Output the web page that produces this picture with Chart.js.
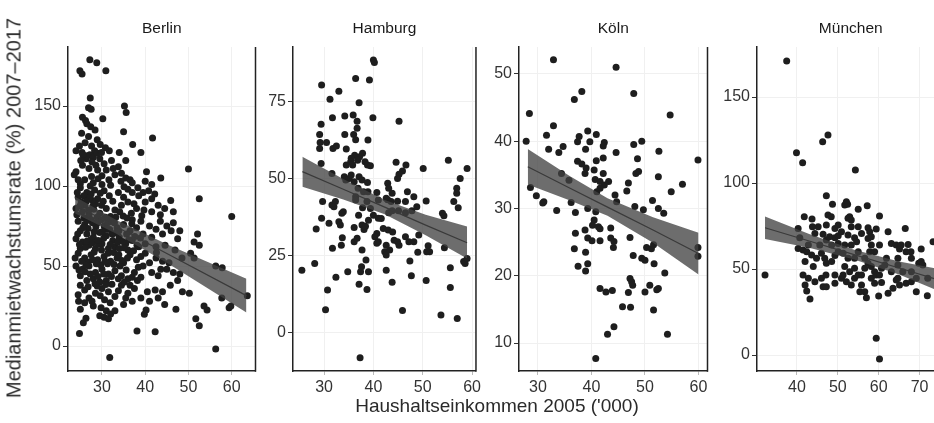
<!DOCTYPE html>
<html><head><meta charset="utf-8">
<script src="https://cdn.jsdelivr.net/npm/chart.js@4"></script>
<style>
html,body{margin:0;padding:0;background:#fff;width:934px;height:423px;overflow:hidden;position:relative;font-family:"Liberation Sans",Arial,sans-serif;}
canvas{position:absolute;}
#ytitle{position:absolute;left:14px;top:208px;transform:translate(-50%,-50%) rotate(-90deg);white-space:nowrap;font-size:20px;color:#2a2a2a;}
#xtitle{position:absolute;left:497px;top:406px;transform:translate(-50%,-50%);white-space:nowrap;font-size:19px;color:#2a2a2a;}
</style></head>
<body>
<canvas id="c0"></canvas><canvas id="c1"></canvas><canvas id="c2"></canvas><canvas id="c3"></canvas>
<div id="ytitle">Medianmietwachstumsrate (%) 2007–2017</div>
<div id="xtitle">Haushaltseinkommen 2005 ('000)</div>
<script>
// ---------------- DATA ----------------
const cities = ["Berlin", "Hamburg", "Köln", "München"];

const berlinXTicks = [30, 40, 50, 60];
const berlinYTicks = [0, 50, 100, 150];
const hamburgXTicks = [30, 40, 50, 60];
const hamburgYTicks = [0, 25, 50, 75];
const koelnXTicks = [30, 40, 50, 60];
const koelnYTicks = [10, 20, 30, 40, 50];
const muenchenXTicks = [40, 50, 60, 70];
const muenchenYTicks = [0, 50, 100, 150];

const berlinRange = {x: [22.15, 65.5], y: [-15.6, 186.9]};
const hamburgRange = {x: [23.7, 60.8], y: [-12.3, 92.5]};
const koelnRange = {x: [26.46, 61.68], y: [5.84, 54.0]};
const muenchenRange = {x: [30.24, 76.1], y: [-9.3, 179.1]};

// income ('000), rent growth (%)
const berlinPoints = [
[27.2,179],[28.8,177],[24.9,172],[25.4,170],[30.9,172],[27.3,155],[35.2,150],[35.6,146],[26.9,149],[27.5,148],
[25.5,143],[26.2,141],[30.2,142],[26.5,139],[27.4,137],[28.4,135],[25.3,133],[26.9,131],[28.9,129],[26.1,127],[27.6,125],[24.8,125],[28.3,122],[29.6,126],[25.4,121],[35,134],[41.7,130],[37.1,126],[24,122],[31.7,122],[34,121],[39,121],[27.2,119.5],[26.4,117],
[26.5,119],[28,118],[29.5,117],[30.5,114],[32.2,116],[35.5,116],[25.5,113],[27,111],[24,109],[23.6,107],[29,110],[31,110],[33,107],[34.5,108],[35.5,105],[36.5,104],[37,102],[40.3,109],[50,110.6],[43.6,105],[40,103],[41.5,101],[26,104],[28,102],[30,101],[32,100.5],[28.6,113],[33.8,112],[30,106.5],[27.6,106],[25,101.5],
[25,99],[26.5,96],[24.5,93],[27.5,95],[29,92],[30.5,97],[28.5,89],[26,88],[31,86],[33,85],[35,93],[37,96],[38.5,94],[40,90],[41.5,92],[40.8,97],[52.5,92],[45.9,91],[44.5,86],[46.5,84],[43.5,82],[41.5,84],[60,81],[24,86],[25.5,84],[27,82],[29.5,83],[32,81],[34.5,88],[36,90],[38,86],[27.8,91],[32.5,90.5],[33.8,96],[29.9,88],[31.7,94],[36.8,83],[39.2,81.5],[25.2,90],[28.1,85.5],[30.8,80.5],[34.9,81.3],
[24.5,78],[26,76],[27.5,79],[29,77],[30.5,75],[32,78],[33.5,74],[35,76],[36.5,72],[38,74],[39.5,70],[25,72],[26.5,70],[28,68],[29.5,71],[31,69],[32.5,66],[34,68],[35.5,64],[37,66],[38.5,62],[40,64],[43.5,78],[45,75],[46.5,77],[48,72],[44,70],[47.5,67],[52.1,70],[51.3,65],[52.5,63],[41.5,68],[42.5,62],[25.5,65],[27,63],[28.5,61],[30,64],[31.5,61],[33,62],[24,67],[25,61],[37,79],[39,78],[41,75],[42.5,73],[36,60],[34,61],[26.8,73.5],[28.6,74.5],[31.8,72.8],[33.2,70.6],[27.4,66.5],[30.4,67.4],[29.2,63.7],[32.9,77],[35.7,70],[38.9,67.6],[26.2,61.8],[34.8,65.3],
[24.5,58],[26,55],[27.5,57],[29,54],[30.5,56],[32,53],[33.5,55],[35,52],[36.5,57],[38,54],[39.5,50],[41,52],[42.5,55],[44,53],[45,48],[46.5,46],[48,45],[24,50],[25.5,48],[27,50],[28.5,46],[30,48],[31.5,45],[33,47],[34.5,44],[36,42],[37.5,46],[25,44],[26.5,41],[28,42],[29.5,40],[31,41],[50.5,58],[51.3,55],[56.3,50],[57.8,49],[40,58],[41.5,46],[43,44],[23.8,55],[39,43],[26.8,52.5],[29.7,50.8],[32.7,58.5],[34.2,50],[28.2,58.7],[31.3,51.5],[35.6,47.5],[38.4,49.2],
[25,38],[26,35],[24.5,32],[27,30],[28.5,33],[30,36],[31.5,34],[33,31],[34.5,38],[36,33],[37.5,36],[39,30],[40.5,34],[42.3,35],[43,30],[44,34],[48.6,34],[50.2,33],[63.6,31.5],[57.7,30],[59.4,24],[59.8,25],[53.6,25],[54.3,22.5],[47.1,23],[40.2,22.5],[26,27],[28,25],[25,23],[29.8,24],[31,22],[32,20],[33,22],[35,26],[37,28],[41,28],[44.5,26],[36.5,38],[28.9,37.5],[32.3,38.6],
[51.7,17],[52.5,12.7],[39.8,19.8],[38.1,9.4],[42.3,9.0],[56.3,-1.9],[31.8,-7.1],[24.8,7.9],[25.7,14.6],[26.3,17.3],[30.5,18],[31.5,17],[29.5,19],
[24.3,96],[25.8,94],[27.1,92.5],[28.3,97.5],[29.6,95.5],[26.4,90.5],[24.9,87.5],[27.9,87.5],[30.3,90.5],[26.9,85],[28.9,80.5],[25.8,80],[24.2,82],[27.8,77],[26.6,78.5],[29.9,79],[31.3,77],[33.2,80.5],[34.1,84],[35.8,80],[36.9,76.5],[31.1,73],[32.4,70],[33.9,72],[30.1,71.5],[28.2,71.5],[25.6,74],[24.4,70],[24.8,63.5],[26.5,65.5],[27.8,64.5],[29.9,60],[31.9,63.5],[33.6,65],[35.1,61.5],[36.2,66.5],[37.6,68.5],[38.1,63],[29.1,66],[31.4,58],[33.9,57],[35.9,55],[37.3,59.5],[39,56],[34.6,53.5],[32.8,51],[30.7,53],[28.7,51.5],[26.3,50.5],[25.3,53],[27.8,54],[30.4,45],[32.2,43.5],[33.8,42],[35.2,40],[37,43],[38.2,41],[27.3,45],[29.1,43.5],[26.1,46.5],[24.7,47.5],[28.4,39],[30.9,38.5],[26.8,37],[29.6,31.5],[27.7,28],[30.6,29],[33.8,34.5],[35.5,30],[31.9,27],[24.6,28],[25.6,119.5],[28.9,120.5],[27.7,115],[29.9,121],[25.1,116],[30.8,124],[32.6,111],[34.4,103],[31.6,104],[29.1,104.5],[27.3,100],[24.5,104],[36,98],[38.3,99],[35.1,99.5],[39.5,96],[42.2,95],[43,88],[39.7,85],[37.4,89],[46,72],[44.6,63],[46.9,60],[42.6,58.5],[48.5,55],[45.5,52],[43.6,48],[47.5,41],[45.8,38]
];

const hamburgPoints = [
[40,88.3],[40.2,87.5],[29.5,80.2],[36.4,82.3],[39.2,81.8],[33,78.2],[31.2,75.6],[37.1,74.5],[31.7,69.6],[34.2,70.2],[35.9,70.5],[39.9,69.6],[29.4,67.5],[36.7,68.5],[36.7,66.2],[45.2,68.5],
[29.1,64.2],[34.2,64.2],[36,64.2],[36.4,62.5],[38.9,62.4],[29.2,61.6],[29.1,59.7],[30.5,61.6],[31.8,59.7],[32.5,60.5],[34.5,59.5],
[37.8,58.1],[37.2,57],[36.2,57.5],[35.5,56.5],[35.4,55.4],[34.5,54.3],[35.8,54.3],[36.8,55.9],[38.3,55.4],[38.8,54.3],[39.4,54.1],[29.4,54.8],[44.6,55.2],[46.6,54.3],[45.9,52.4],[45.2,51.3],[44.9,50],[50.1,53.2],[55.2,55.9],[59,53.2],[57.6,50],
[31.6,51.6],[34.1,50.5],[34.4,49.5],[35.1,50],[35.5,51.1],[36.1,48.9],[37.1,50.5],[37.7,49.5],[38.8,48.7],[36.9,46.8],[38,45.7],[38.9,45.7],[40.7,45.4],[42.9,48.4],[43.1,46.8],[43.8,45.2],[46.9,45.7],[48.2,44.1],[56.9,46.8],[56.9,45.2],[56.3,42.5],[57.2,40.5],
[29.7,42.5],[31.6,41.4],[32.3,42.5],[32,40.8],[36.4,44.1],[36.4,43],[37.8,40.5],[39.4,40.3],[38.7,42.5],[41,43],[42.6,43.6],[42.9,43.1],[43.6,42.5],[44.9,42.6],[46.5,42.5],
[41,37.1],[41.6,37],[43.1,38.9],[43.8,39.5],[45.1,39.5],[46.5,38.9],[47.8,39.5],[48.8,40.8],[50.7,42.7],[54,38.7],[54.3,37.9],[33.6,38.7],[33.9,39.2],[29.5,37.1],[28.4,33.6],[31,35.5],[33,36],[33.3,34.9],
[36.1,34.1],[37.7,34.9],[38.1,33.5],[38.4,34.5],[39,36.5],[37,38.1],[40,38.1],[36.1,29.5],[36.7,30.6],[33.5,28.4],[33.7,30.8],[31.7,27.4],[37.7,26.8],[40.7,32.2],[40.3,31.1],[41,29.5],[40.7,29],
[42,33.8],[43,33.3],[43.9,32.7],[44.2,30],[44.9,29.5],[45.2,28.4],[42.6,28.4],[42.3,26.3],[42.6,25.2],[43.3,26.8],[46.5,31.1],[47.2,29.5],[48.2,29.5],[49.2,31.7],[51.1,28.2],[51.4,26.3],[50.8,26.3],[49,26.1],[54.4,27.6],
[58.3,23.1],[58.6,22.5],[59,24.1],[55.6,21.1],[47.4,23.3],[25.5,20.3],[28.1,22.5],[34.8,19.8],[37.4,19.8],[37.6,21.4],[39,19.8],[38.5,23.6],[42.6,20.3],[43.8,16.4],[47.7,18.5],[50.7,17],[32.4,18],
[30.7,13.9],[37.1,15.8],[38.7,14.1],[55.6,14.7],[30.3,7.5],[45.9,7.3],[53.7,5.8],[57,4.7],[37.3,-8]
];

const koelnPoints = [
[32.9,52.1],[44.6,51],[38.2,47.4],[36.8,46.2],[47.9,47.1],[28.4,44.1],[54.7,43.9],[32.9,42.3],[31.6,40.9],[37.7,40.7],[37.4,39.9],[39.3,41.5],[40.9,41],[27.8,40],[39.7,39.9],[42.4,39.8],[42.2,39.3],[49.4,40],[47.9,39.5],
[32,38.8],[33.9,38.3],[34.7,39.2],[38.9,38.8],[44.6,38.3],[52.6,38.5],[40.9,37.1],[42.2,37.5],[48.6,37.4],[59.9,37.2],[37.4,37],[38.2,36.6],[39,36],[38.8,35.2],[40.5,35.7],[42.2,35.2],[48.3,35.2],[48.8,35.5],[52.5,34.7],[34.4,35.2],[35.8,34.2],
[40.7,34.3],[41.6,34],[42.4,33.5],[43.2,34],[41.6,33],[41,32.5],[46.9,33.8],[46.6,32.6],[57,33.6],[54.9,32.5],[44.4,32],[28.6,33.1],[29.7,31.9],[31.1,31],[30.9,30.8],[36.2,30.9],[37,29.4],[33.5,29.7],[39.3,30],[40.8,29.5],[44.7,31],[48.1,30.3],[49.7,29.8],[51.4,31.2],[52.5,30],[53.5,29.3],
[40.5,28.3],[40.2,27.5],[41.3,27.3],[41.6,27],[38.8,26.8],[43.6,27.1],[47.2,25.7],[37,26.3],[39.3,25.6],[40.1,25.2],[41.6,25.2],[43.6,25.6],[44.2,25.1],[44.1,24.2],[50.3,24.2],[51.2,24],[51.6,24.6],[59.9,24.2],[59.9,22.9],[36.8,24],[38.9,23.5],
[47.8,23],[49.4,22.6],[50,22.3],[51.7,21.8],[53.7,20.4],[37.5,21.4],[39.3,21.8],[38.9,20.7],[47.2,19.6],[47.5,19.1],[47.7,18.6],[50.9,18.6],[50,17.6],[52.5,18.1],[52.2,17.9],[41.6,18.1],[42.7,17.6],[43.9,17.8],[46.9,17.5],
[45.8,15.4],[47.3,15.3],[51.6,14.9],[44.2,12.4],[43,11.3],[54.2,11.3],[40.8,7.7]
];

const muenchenPoints = [
[37.5,171],[46.3,124],[47.6,127.9],[39.9,117.6],[41.4,111.8],[54.3,107.6],[47.2,92.6],[52.1,89.1],[51.7,87.2],[52.4,87.6],[48.7,87.6],[57.2,86.8],[55,84.7],
[47.6,81.4],[48.4,80.4],[52.9,80.4],[52.5,79.5],[53.3,78.5],[60.2,80.8],[41.8,80.4],[43.7,79.1],[45.2,74.6],[47.2,75.6],[49.3,73.6],[50.1,75.6],[40.3,73.6],[66.5,73.6],[57.4,74],[59.4,73.3],[57.8,71.7],[57.4,67.8],[62.3,71.7],
[44.4,70.7],[46.4,70.2],[47.2,66.9],[49.3,68.2],[50.1,69.4],[52.5,69.8],[54.1,68.2],[40.3,62],[41.5,61],[42.4,60.1],[63.1,64.9],[64.3,64],[65.1,61.6],[67.2,64.3],[67.9,60.1],[70.4,61.6],[73.3,65.9],
[43.6,58.1],[44.8,56.2],[46,59.1],[46.8,56.2],[47.2,53.3],[48.5,54.3],[49.3,57.8],[50.1,60.1],[51.3,59.1],[51.7,64],[52.5,56.2],[54.1,56.2],[55,60.1],[56.6,56.2],[58.2,64],[59,60.1],[57.4,53.3],[58.2,51.4],[56.6,50.4],[59,48.4],[60.7,50.4],[61.5,52.3],
[47.1,46.5],[49.3,46.5],[50.9,44.6],[51.7,51.4],[52.9,48.4],[54.1,44.6],[55,46.5],[53.3,40.7],[55.8,40.7],[56.6,36.8],[57,33.3],[58.2,44.6],[59,41.7],[60.7,42.2],[59.4,46.5],[60.2,46.5],[62.3,35.9],[63.5,38.8],[64.3,43.6],[65.1,40.7],[66.7,41.7],[68,42.6],[69.2,44.6],[69.8,53.3],[70.4,54.3],[72,44.6],
[44.4,42.6],[46.4,39.7],[47.2,39.7],[49.3,41.7],[65.9,48.4],[68,48.4],[64.7,52.3],[64.7,44.6],[40.7,68.2],[43.8,74.6],[53.3,74.6],[54.6,65.9],[55.8,70.7],[48.5,64],[50.1,64.9],[45.6,64],[66.7,60.1],[64.7,56.2],[68,56.2],
[42.8,64],[42,54.3],[44,51.4],[51.3,46.5],[55.8,46.5],[57.8,60.1],[61.9,56.2],[63.1,48.4],[65.5,64],[70.8,52.3],[48,68.8],[50.9,71.7],[55,74.6],[53.3,64],[58.2,68.8],[60.2,64],[54.1,50.4],[52.1,42.6],[55.4,36.8],[46,44.6],[41.5,46.5],[42.8,44.6],
[42,40.7],[42.4,37.2],[43.2,32.6],[60,34.3],[69.2,36.8],[71.9,34.5],[32.2,46.5],[59.4,9.7],[60.2,-2.3]
];

// linear fit with confidence band
const berlinFitX = [23.8, 33, 45, 63.4];
const berlinFit = [88.1, 75.0, 57.8, 31.5];
const berlinLow = [82.9, 70.7, 52.0, 21.0];
const berlinHigh = [93.3, 79.3, 63.6, 42.0];

const hamburgFitX = [25.6, 33.9, 42.3, 50.6, 59.0];
const hamburgFit = [52.2, 46.5, 40.7, 34.9, 29.2];
const hamburgLow = [47.3, 43.2, 38.4, 31.6, 24.1];
const hamburgHigh = [57.0, 49.8, 43.0, 38.2, 34.4];

const koelnFitX = [28.1, 36, 43, 51.5, 60.0];
const koelnFit = [36.2, 33.0, 30.2, 26.8, 23.3];
const koelnLow = [33.55, 31.2, 28.9, 24.9, 20.2];
const koelnHigh = [38.85, 34.8, 31.5, 28.7, 26.4];

const muenchenFitX = [32.2, 43, 54, 65, 76];
const muenchenFit = [74.0, 66.3, 58.4, 50.6, 42.7];
const muenchenLow = [67.4, 62.3, 55.6, 46.8, 35.9];
const muenchenHigh = [80.6, 70.3, 61.2, 54.4, 49.5];

// ---------------- LAYOUT / STYLE ----------------
const PANEL_TOP = 47, PANEL_BOTTOM = 371;
const panelEdges = [[68, 256], [293, 481], [519, 708], [757, 945]];
const AXW = 45, PADT = 37, AXH = 30, PADR = 3;

const panels = [
  {title: cities[0], pts: berlinPoints, fx: berlinFitX, fy: berlinFit, lo: berlinLow, hi: berlinHigh, xt: berlinXTicks, yt: berlinYTicks, r: berlinRange},
  {title: cities[1], pts: hamburgPoints, fx: hamburgFitX, fy: hamburgFit, lo: hamburgLow, hi: hamburgHigh, xt: hamburgXTicks, yt: hamburgYTicks, r: hamburgRange},
  {title: cities[2], pts: koelnPoints, fx: koelnFitX, fy: koelnFit, lo: koelnLow, hi: koelnHigh, xt: koelnXTicks, yt: koelnYTicks, r: koelnRange},
  {title: cities[3], pts: muenchenPoints, fx: muenchenFitX, fy: muenchenFit, lo: muenchenLow, hi: muenchenHigh, xt: muenchenXTicks, yt: muenchenYTicks, r: muenchenRange}
];

const stripPlugin = {
  id: 'strip',
  afterDraw(chart, args, opts) {
    const {ctx, chartArea: a} = chart;
    ctx.save();
    ctx.font = '15.5px "Liberation Sans", Arial, sans-serif';
    ctx.fillStyle = '#1a1a1a';
    ctx.textAlign = 'center';
    ctx.textBaseline = 'middle';
    ctx.fillText(opts.text, (a.left + a.right) / 2, a.top - 18);
    ctx.strokeStyle = '#222';
    ctx.lineWidth = 1.5;
    ctx.beginPath();
    ctx.moveTo(a.right, a.top);
    ctx.lineTo(a.right, a.bottom + 0.75);
    ctx.stroke();
    ctx.restore();
  }
};

Chart.defaults.font.family = '"Liberation Sans", Arial, sans-serif';

panels.forEach((p, i) => {
  const cv = document.getElementById('c' + i);
  const [L, R] = panelEdges[i];
  cv.width = (R - L) + AXW + PADR;
  cv.height = PADT + (PANEL_BOTTOM - PANEL_TOP) + AXH;
  cv.style.left = (L - AXW) + 'px';
  cv.style.top = (PANEL_TOP - PADT) + 'px';
  new Chart(cv, {
    type: 'scatter',
    data: {
      datasets: [
        {type: 'line', data: p.fx.map((x, k) => ({x, y: p.lo[k]})), borderColor: 'rgba(0,0,0,0)', pointRadius: 0, fill: false, order: 1},
        {type: 'line', data: p.fx.map((x, k) => ({x, y: p.hi[k]})), borderColor: 'rgba(0,0,0,0)', pointRadius: 0, fill: '-1', backgroundColor: 'rgba(65,65,65,0.77)', order: 1},
        {type: 'line', data: p.fx.map((x, k) => ({x, y: p.fy[k]})), borderColor: '#3a3a3a', borderWidth: 1.2, pointRadius: 0, fill: false, order: 0},
        {type: 'scatter', data: p.pts.map(([x, y]) => ({x, y})), pointRadius: 3.5, pointHoverRadius: 3.5, backgroundColor: '#1e1e1e', borderWidth: 0, order: 2}
      ]
    },
    options: {
      responsive: false,
      animation: false,
      devicePixelRatio: 1,
      layout: {padding: {top: PADT, right: PADR, left: 0, bottom: 0}},
      plugins: {legend: {display: false}, tooltip: {enabled: false}, strip: {text: p.title}},
      scales: {
        x: {
          type: 'linear', min: p.r.x[0], max: p.r.x[1],
          afterBuildTicks: s => { s.ticks = p.xt.map(v => ({value: v})); },
          afterFit: s => { s.height = AXH; },
          ticks: {color: '#333', font: {size: 16}, padding: 3, maxRotation: 0, autoSkip: false},
          grid: {color: '#f0f0f0', lineWidth: 1, tickLength: 4, tickColor: '#bbb'},
          border: {display: true, color: '#222', width: 1.5}
        },
        y: {
          type: 'linear', min: p.r.y[0], max: p.r.y[1],
          afterBuildTicks: s => { s.ticks = p.yt.map(v => ({value: v})); },
          afterFit: s => { s.width = AXW; },
          ticks: {color: '#333', font: {size: 16}, padding: 2, autoSkip: false},
          grid: {color: '#f0f0f0', lineWidth: 1, tickLength: 5, tickColor: '#333'},
          border: {display: true, color: '#222', width: 1.5}
        }
      }
    },
    plugins: [stripPlugin]
  });
});
</script>
</body></html>
